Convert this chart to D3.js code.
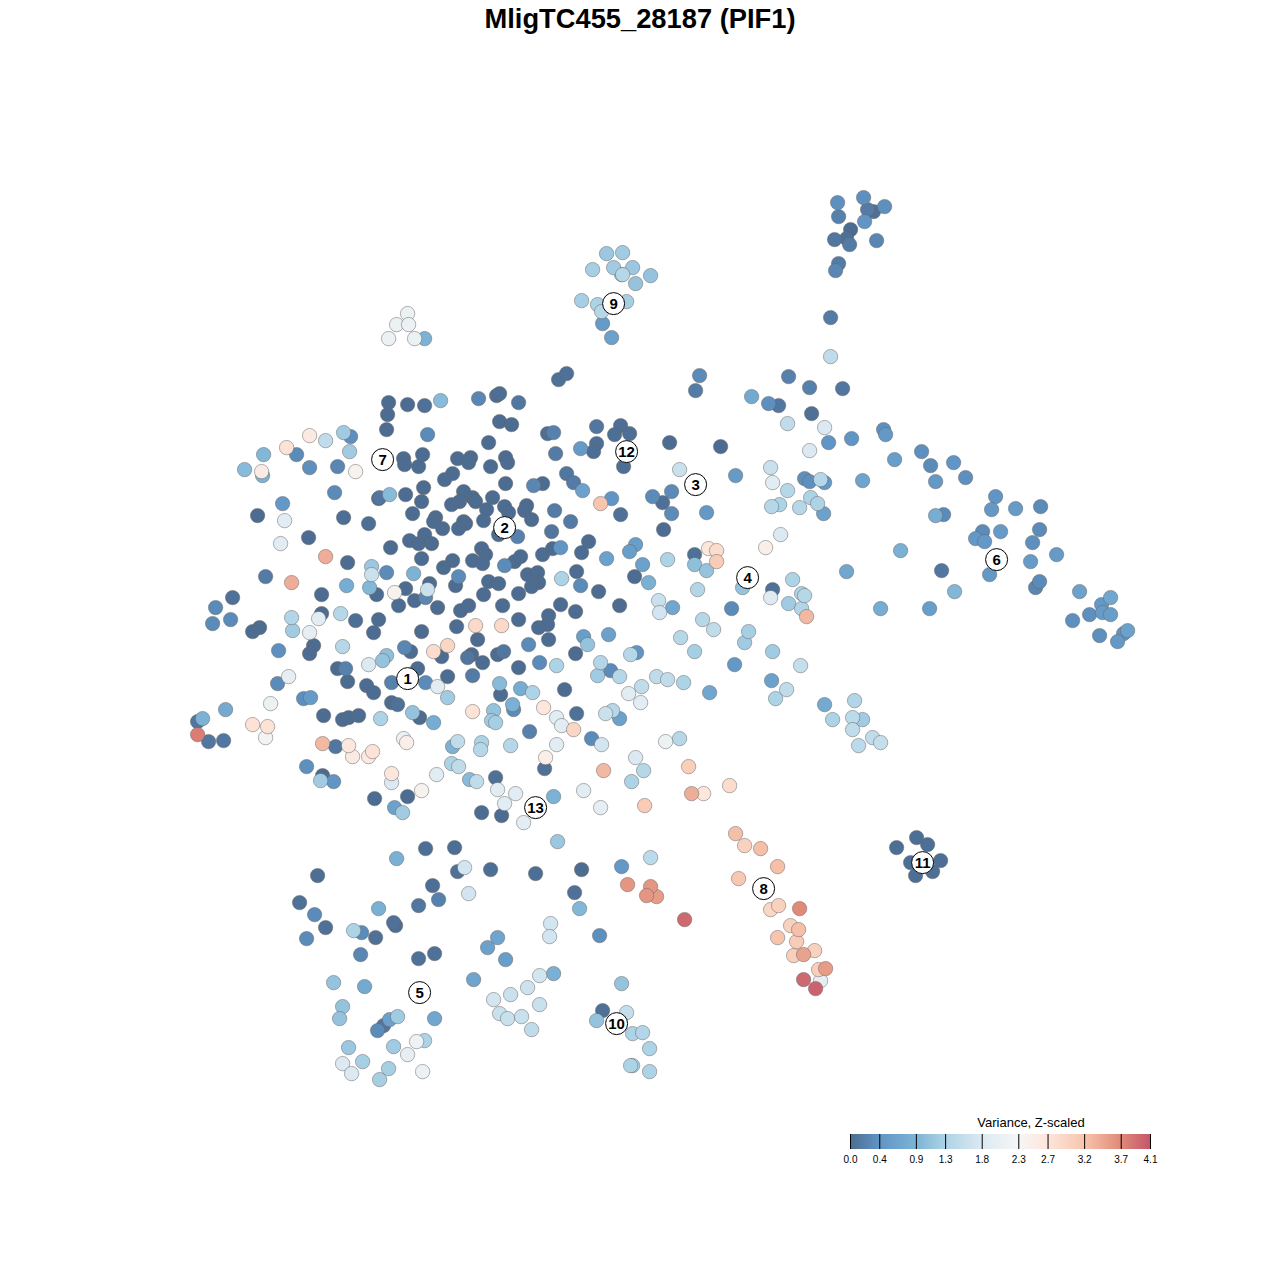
<!DOCTYPE html>
<html><head><meta charset="utf-8">
<script src="https://cdn.jsdelivr.net/npm/d3@7"></script>
<style>html,body{margin:0;padding:0;background:#fff}svg{display:block}text{font-family:"Liberation Sans",Arial,sans-serif}</style>
</head><body><svg id="c" width="1280" height="1280"></svg>
<script>
const chartTitle = "MligTC455_28187 (PIF1)";
const legendTitle = "Variance, Z-scaled";
const legendTicks = [0,0.4,0.9,1.3,1.8,2.3,2.7,3.2,3.7,4.1];
const legendColors = ["#4c6c92","#6095c5","#7cb3d5","#add3e6","#dce9f2","#f6f6f6","#fde6db","#f7c5ad","#e08a78","#c4566a"];
// each cell: [embedding x, embedding y, variance]
const cellsTop = [[837,202,.35],[863,197,.35],[867,209,.15],[873,211,.05],[884,206,.35],[838,216,.2],[864,221,.4],[850,229,0],[834,239,.1],[846,238,.05],[849,244,.15],[876,240,.25],[838,263,.15],[835,270,.25],[830,317,.15],[830,356,1.5],
[606,253,1.15],[622,252,1.2],[592,269,1.25],[613,267,1.2],[632,267,1.15],[621,274,1.1],[622,274,1.4],[650,275,1.1],[635,283,1.1],[581,300,1.25],[597,304,1.3],[626,301,1.25],[601,311,1.4],[602,323,.5],[611,337,.6],
[407,313,2.1],[396,324,2.1],[408,324,2.1],[388,338,2.1],[414,338,2.1],[424,338,.9],[558,379,.05],[566,373,.05]];
const cellsWest = [[388,402,0],[407,404,0],[424,405,.05],[440,400,1],[387,414,0],[386,429,0],[427,434,.3],[350,436,.35],[343,432,1.2],[325,440,1.5],[309,435,2.6],[286,447,2.75],[296,454,.3],[263,454,.95],[349,451,1.2],[244,469,1],[262,475,.9],[261,471,2.55],[309,467,.35],[337,466,.25],[355,471,2.4],[403,458,0],[404,464,0],[418,466,0],[422,454,0],[334,492,.3],[378,498,0],[379,497,.1],[389,494,1],[405,494,0],[423,487,0],[421,501,0],[282,503,.45],[257,515,0],[284,520,1.9],[343,517,.02],[368,523,.02],[412,513,0],[435,517,0],[433,521,0],[442,528,0],[308,537,0],[280,543,1.9],[390,547,0],[409,540,0],[424,534,0],[418,543,0],[431,543,0],[421,558,0],[325,556,3.4],[347,562,0],[371,566,1.15],[371,574,1.6],[386,572,.3],[413,573,.9],[265,576,.15],[291,582,3.4],[346,585,.8],[369,587,.95],[376,594,0],[394,592,2.4],[405,588,0],[429,583,0],[427,589,1.6],[425,597,.25],[398,605,0],[414,600,0],[437,607,0],[232,597,.05],[215,607,.3],[212,623,.3],[230,619,.3],[321,594,0],[321,613,0],[291,617,1.35],[318,618,1.9],[340,613,1.4],[355,620,.02],[378,619,0],[292,630,1.2],[309,632,2],[259,627,0],[252,631,0],[373,632,0],[421,631,0],[278,650,.35],[313,645,0],[309,653,0],[342,646,1.4],[404,647,.25],[410,651,0],[386,655,1.05],[382,660,1.1],[368,664,1.8],[337,668,0],[345,668,.2],[347,681,0],[417,668,0],[288,676,2],[277,683,.3],[303,698,.35],[310,697,.5],[366,685,0],[373,692,0],[391,682,.2],[425,682,.3],[437,686,1.9],[391,702,0],[397,704,.05],[412,712,1.1],[419,717,0],[433,722,.8],[380,718,1.3],[323,715,0],[342,719,0],[348,717,0],[358,715,0],[270,703,2.1],[225,709,.75],[197,721,.1],[202,718,.9],[252,724,2.75],[267,726,2.75],[265,737,2.2],[197,734,3.8],[208,741,.1],[223,740,.1],[322,743,3.3],[335,746,.1],[348,745,2.65],[352,756,2.6],[368,756,2.6],[372,751,2.75],[403,738,2.1],[406,742,2.5],[452,746,.9],[457,741,1.5],[451,763,1.3],[458,766,1.5],[306,766,.35],[322,775,0],[320,780,1.2],[333,781,.4],[391,773,2.7],[391,782,1.8],[436,774,1.9],[469,779,1],[476,781,1.5],[374,798,0],[407,796,0],[421,790,2.4],[394,807,.6],[402,812,1.2]];
const cellsCentre = [[478,398,.25],[496,395,.02],[499,393,.02],[518,402,.1],[499,421,0],[511,424,0],[547,433,.02],[553,432,.2],[596,426,.1],[620,425,.02],[614,434,.02],[629,433,.02],[669,442,0],[488,442,0],[580,448,.5],[596,443,.02],[593,451,.02],[555,453,.15],[623,466,.02],[457,458,0],[470,457,0],[468,462,0],[452,473,0],[444,479,0],[490,466,0],[505,457,0],[507,462,0],[566,473,.1],[573,482,.15],[582,490,.6],[542,483,0],[533,485,.25],[505,483,0],[463,491,0],[472,497,0],[459,501,0],[451,504,0],[475,501,0],[492,497,0],[504,506,0],[508,512,0],[486,509,0],[526,505,0],[524,510,0],[531,519,0],[554,510,.15],[611,498,.4],[600,503,3.2],[620,514,.05],[652,496,.3],[671,491,.3],[662,502,.05],[671,513,.3],[663,529,0],[570,521,.15],[463,521,0],[465,523,0],[458,528,0],[483,520,0],[498,534,0],[517,536,.2],[551,531,.1],[588,541,0],[581,552,0],[552,548,0],[560,547,.4],[542,554,0],[635,544,.55],[629,551,.55],[606,558,.6],[642,564,.6],[667,559,1.3],[452,560,0],[443,567,0],[472,560,0],[481,548,0],[485,554,0],[482,563,0],[504,565,.3],[514,561,0],[520,556,0],[458,576,.3],[455,585,0],[576,571,0],[561,578,1.3],[634,576,0],[648,582,.85],[527,574,0],[537,572,0],[538,582,0],[531,586,0],[488,581,0],[498,583,0],[483,594,0],[518,593,0],[580,585,.3],[598,591,0],[658,600,1.6],[659,612,1.7],[672,607,.7],[460,610,0],[468,605,0],[502,605,0],[560,604,0],[575,611,0],[619,605,0],[548,615,0],[547,624,0],[538,627,0],[518,619,0],[456,626,0],[475,625,2.9],[501,625,2.9],[548,639,0],[583,636,.55],[587,644,1.1],[608,634,.6],[680,637,1.4],[477,639,0],[433,651,2.85],[447,645,2.95],[441,656,0],[467,657,.1],[471,654,0],[482,662,0],[497,654,0],[503,651,.1],[528,644,.3],[575,653,0],[539,662,.3],[556,665,1.3],[518,667,0],[636,652,.4],[630,654,1.4],[600,662,1.35],[610,670,.3],[597,675,1.2],[619,676,1.4],[447,676,0],[472,675,.15],[447,697,1.2],[499,683,1],[500,694,0],[520,688,.8],[532,692,1.3],[564,689,0],[656,676,1.5],[667,679,1.5],[683,682,1.3],[641,686,1.5],[628,693,1.9],[640,702,1.9],[709,692,.7],[472,711,2.75],[493,710,1.1],[512,704,.85],[513,709,.3],[543,707,2.7],[556,717,1.9],[576,713,.05],[561,725,1.9],[573,729,2.95],[612,710,1.4],[605,713,1.6],[619,718,.6],[495,722,1.25],[491,720,1.2],[529,731,.2],[591,738,.3],[601,744,1.7],[481,742,1.3],[480,749,1.4],[510,745,1.4],[556,744,1.9],[665,741,2.1],[679,738,1.4],[635,757,1.8],[545,757,2.5],[544,768,.05],[643,770,1.4],[603,770,3.3],[688,766,3.05],[631,781,1.3],[495,777,.05],[497,789,1.9],[515,793,1.9],[504,803,1.9],[553,796,.9],[583,790,1.9],[481,812,0],[501,815,0],[523,822,1.95],[600,807,2],[644,805,3.1],[691,793,3.4],[703,793,2.7],[729,785,2.85],[557,841,1.15]];
const cellsEast = [[699,375,.3],[695,390,.15],[751,396,.75],[768,403,.35],[778,405,.1],[788,376,.2],[809,387,.2],[842,388,.1],[811,413,.05],[787,423,1.5],[824,427,1.8],[828,442,.4],[851,438,.4],[883,429,.35],[885,434,.45],[809,450,1.8],[894,459,.55],[720,446,0],[770,467,1.6],[772,482,1.9],[804,478,.35],[809,481,.35],[824,482,.45],[820,479,1.4],[862,480,.65],[787,490,1.4],[779,504,1.3],[771,506,1.4],[799,507,1.4],[810,497,1.3],[817,503,1.3],[823,513,.6],[735,475,.5],[706,512,.45],[679,469,1.6],[780,534,1.8],[765,547,2.5],[708,548,2.7],[716,550,2.85],[694,554,.05],[694,564,1.05],[716,561,3.1],[706,570,1.1],[900,550,.85],[846,571,.7],[697,589,1.35],[792,579,1.3],[742,587,1.1],[772,589,.05],[770,597,1.85],[804,595,1.4],[801,593,1.3],[788,603,1.2],[801,608,1.35],[806,616,3.3],[731,608,.3],[880,608,.8],[702,619,1.4],[713,629,1.5],[748,631,1.25],[744,642,1.2],[694,651,1.25],[772,651,1.2],[734,664,.45],[800,665,1.55],[771,680,.6],[786,689,1.5],[775,698,1.3],[824,704,.75],[854,700,1.35],[832,719,1.3],[862,719,1.2],[852,717,1.45],[852,729,1.5],[872,737,1.5],[880,742,1.55],[858,745,1.45],
[921,451,.35],[930,465,.3],[953,462,.4],[935,481,.45],[965,477,.35],[995,496,.4],[991,509,.45],[1015,508,.5],[1040,506,.3],[943,514,.3],[935,515,.8],[1000,531,.5],[1039,529,.3],[982,531,.3],[975,538,.45],[984,541,.45],[1032,542,.35],[1030,561,.5],[1056,554,.5],[941,570,.1],[989,574,.45],[1035,587,.25],[1039,581,.3],[954,591,.95],[1079,591,.6],[929,608,.55],[1110,597,.7],[1101,604,.45],[1089,614,.35],[1102,612,.5],[1110,614,.55],[1072,620,.35],[1099,635,.35],[1123,633,.4],[1127,630,.6],[1117,641,.45],
[916,837,.02],[927,844,.02],[896,847,.02],[910,862,.02],[940,860,.02],[932,871,.02],[915,875,.02]];
const cellsSouth = [[735,833,3.25],[744,845,3],[760,848,3.25],[777,866,3.25],[738,878,3.15],[650,857,1.45],[621,866,.45],[581,869,0],[627,884,3.6],[650,886,3.6],[656,896,3.55],[646,895,3.6],[574,892,.05],[579,908,.95],[684,919,3.95],[599,935,.35],[621,983,1.1],[602,1010,.05],[626,1012,1.55],[596,1020,1.1],[642,1032,1.35],[632,1033,1.3],[649,1048,1.3],[632,1065,1.3],[630,1065,1.3],[649,1071,1.3],[799,908,3.7],[778,905,3],[770,909,2.95],[790,925,3],[798,929,3.25],[777,937,3.2],[796,941,3.1],[814,950,3],[793,955,3.05],[803,954,3.5],[818,969,3.05],[825,968,3.55],[820,980,2],[803,979,3.95],[815,988,4],
[425,848,.02],[454,847,.02],[396,858,.85],[464,867,1.7],[457,871,.05],[490,869,.02],[535,873,.02],[317,875,.02],[432,885,.02],[468,893,1.7],[418,905,.1],[438,899,.2],[299,902,.05],[378,908,.85],[314,914,.3],[325,927,.05],[353,930,1.3],[361,932,.3],[375,937,.05],[393,922,.05],[395,925,.02],[306,938,.3],[360,954,.25],[550,923,1.7],[549,936,1.7],[497,937,.65],[487,947,.6],[505,959,.55],[434,953,.05],[418,958,.05],[473,979,.65],[539,975,1.7],[553,973,.85],[527,987,1.65],[333,982,1.1],[364,986,.75],[510,994,1.6],[493,999,1.7],[539,1004,1.6],[342,1006,1.1],[339,1018,1.1],[434,1018,.7],[397,1016,1.2],[389,1019,.6],[383,1025,.1],[377,1030,.3],[499,1013,1.6],[507,1018,1.6],[521,1016,1.6],[531,1029,1.5],[348,1047,1.15],[393,1046,1.2],[424,1040,1.3],[416,1041,2.15],[407,1054,2],[342,1063,1.8],[362,1061,1.25],[351,1073,1.8],[388,1068,1.25],[379,1079,1.25],[422,1071,2.1]];
const clusterLabels = [["1",407,678],["2",504,527],["3",695,484],["4",747,577],["5",419,992],["6",996,559],["7",382,459],["8",763,888],["9",613,303],["10",616,1023],["11",922,862],["12",626,451],["13",535,807]];

const svg = d3.select("#c");
const x = d3.scaleLinear().domain([0,1280]).range([0.6,1280.6]);
const y = d3.scaleLinear().domain([0,1280]).range([0.6,1280.6]);
const color = d3.scaleLinear().domain(legendTicks).range(legendColors).clamp(true);

svg.append("text").attr("x",640).attr("y",27.5).attr("text-anchor","middle")
  .attr("font-size",27.3).attr("font-weight","bold").attr("fill","#000").text(chartTitle);

const cells = [...cellsTop,...cellsWest,...cellsCentre,...cellsEast,...cellsSouth].sort((a,b)=>a[2]-b[2]);
svg.append("g").selectAll("circle").data(cells).join("circle")
  .attr("cx",d=>x(d[0])).attr("cy",d=>y(d[1])).attr("r",7.2)
  .attr("fill",d=>color(d[2])).attr("stroke","#666").attr("stroke-opacity",.5).attr("stroke-width",1);

const lab = svg.append("g").selectAll("g").data(clusterLabels).join("g")
  .attr("transform",d=>`translate(${x(d[1])},${y(d[2])})`);
lab.append("circle").attr("r",11).attr("fill","#fff").attr("stroke","#000").attr("stroke-width",1);
lab.append("text").attr("text-anchor","middle").attr("dy","0.36em").attr("font-size",15).attr("font-weight","bold").attr("fill","#000").text(d=>d[0]);

const lx = d3.scaleLinear().domain([0,4.1]).range([850,1150]);
const defs = svg.append("defs");
const g = defs.append("linearGradient").attr("id","lg").attr("x1","0%").attr("x2","100%");
legendTicks.forEach((t,i)=>g.append("stop").attr("offset",(t/4.1*100)+"%").attr("stop-color",legendColors[i]));
const lg = svg.append("g");
lg.append("rect").attr("x",lx(0)).attr("y",1134).attr("width",lx(4.1)-lx(0)).attr("height",15).attr("fill","url(#lg)");
const ax = d3.axisBottom(lx).tickValues(legendTicks).tickFormat(d3.format(".1f")).tickSize(-15).tickPadding(7);
const axg = lg.append("g").attr("transform","translate(0,1149)").call(ax);
axg.select(".domain").remove();
axg.selectAll("line").attr("stroke","#000").attr("stroke-width",1);
axg.selectAll("text").attr("font-size",10).attr("font-family","Liberation Sans").attr("fill","#000");
lg.append("text").attr("x",1031).attr("y",1127).attr("text-anchor","middle").attr("font-size",13).attr("fill","#000").text(legendTitle);
</script></body></html>
